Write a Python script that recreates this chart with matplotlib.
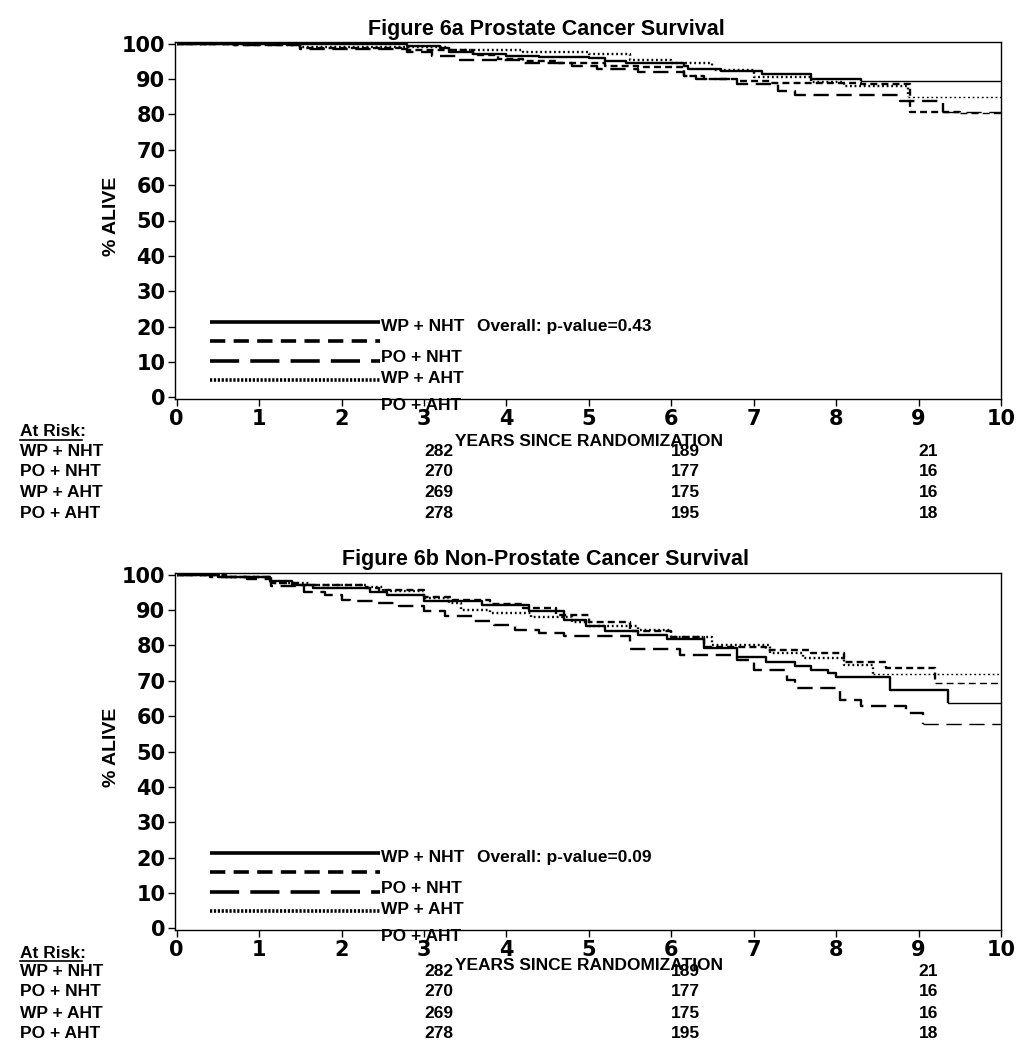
import matplotlib
matplotlib.use('Agg')
import matplotlib.pyplot as plt
import matplotlib.transforms as mtransforms

plt.rcParams['lines.scale_dashes'] = False

# ---- data ----
groups = ['WP + NHT', 'PO + NHT', 'WP + AHT', 'PO + AHT']
risk_years = [3, 6, 9]
risk_counts = [[282, 189, 21], [270, 177, 16], [269, 175, 16], [278, 195, 18]]

# Figure 6a: prostate cancer survival (step curves, event times in years)
a_wp_nht_t = [0, 1.75, 2.8, 3.2, 3.3, 3.6, 4.0, 4.4, 5.0, 5.2, 5.45, 6.15, 6.2, 6.6, 7.1, 7.7, 8.3]
a_wp_nht_s = [100, 99.8, 99.4, 98.8, 97.8, 97.2, 96.6, 96.2, 95.9, 95.2, 94.7, 93.8, 92.8, 92.4, 91.4, 90.0, 89.5]
a_po_nht_t = [0, 0.7, 1.5, 2.8, 3.6, 3.9, 4.2, 4.6, 5.2, 5.6, 6.15, 6.4, 6.8, 7.2, 7.7, 8.3, 8.9, 9.5]
a_po_nht_s = [100, 99.7, 98.8, 98.1, 96.9, 95.7, 95.0, 94.5, 93.8, 93.3, 91.0, 90.1, 89.4, 89.0, 88.9, 88.7, 80.8, 80.4]
a_wp_aht_t = [0, 0.7, 1.5, 2.8, 3.1, 3.4, 4.2, 4.8, 5.1, 5.6, 6.15, 6.3, 6.8, 7.3, 7.5, 8.77, 9.3]
a_wp_aht_s = [100, 99.7, 98.5, 97.8, 96.4, 95.5, 94.5, 93.8, 92.9, 92.0, 90.8, 90.1, 88.5, 86.6, 85.6, 83.7, 80.8]
a_po_aht_t = [0, 1.3, 1.5, 2.8, 3.3, 4.2, 5.0, 5.5, 6.0, 6.5, 7.0, 7.7, 8.1, 8.87]
a_po_aht_s = [100, 99.6, 99.2, 99.0, 98.3, 97.8, 97.0, 95.5, 94.5, 92.5, 90.5, 89.1, 88.0, 84.9]

# Figure 6b: non-prostate cancer survival
b_wp_nht_t = [0, 0.5, 1.13, 1.4, 1.65, 2.34, 2.55, 3.0, 3.7, 4.28, 4.7, 4.97, 5.2, 5.6, 5.95, 6.4,
              6.8, 7.15, 7.5, 7.7, 7.9, 8.0, 8.65, 9.36]
b_wp_nht_s = [100, 99.4, 98.3, 97.2, 96.3, 95.2, 94.3, 92.6, 91.5, 89.8, 87.3, 85.5, 84.2, 83.0, 81.9, 79.3,
              76.8, 75.4, 74.2, 73.0, 72.2, 71.0, 67.4, 63.7]
b_po_nht_t = [0, 0.6, 1.15, 1.5, 2.3, 2.45, 3.0, 3.35, 3.8, 4.2, 4.6, 5.0, 5.5, 6.0, 6.4, 7.15, 7.7, 8.1, 8.6, 9.2]
b_po_nht_s = [100, 99.3, 97.7, 97.2, 96.3, 95.8, 93.8, 92.8, 91.6, 90.5, 88.5, 86.5, 84.2, 82.3, 79.6, 78.8,
              77.9, 75.4, 73.7, 69.4]
b_wp_aht_t = [0, 0.4, 0.85, 1.15, 1.55, 1.8, 2.0, 2.1, 2.4, 2.7, 3.0, 3.25, 3.6, 3.85, 4.1, 4.4, 4.7, 5.5,
              6.1, 6.8, 7.0, 7.4, 7.5, 8.05, 8.3, 8.85, 9.05]
b_wp_aht_s = [100, 99.4, 98.8, 96.9, 95.2, 94.4, 93.0, 92.6, 92.0, 91.2, 89.8, 88.4, 87.0, 85.8, 84.4, 83.6,
              82.7, 79.0, 77.3, 76.0, 73.0, 70.3, 68.0, 64.6, 62.9, 61.0, 57.8]
b_po_aht_t = [0, 0.6, 1.15, 1.6, 2.3, 2.5, 3.0, 3.3, 3.45, 3.8, 4.3, 4.8, 5.0, 5.6, 6.0, 6.5, 7.2, 7.6, 8.1, 8.45]
b_po_aht_s = [100, 99.4, 97.7, 97.2, 96.5, 95.5, 93.5, 92.0, 90.1, 89.2, 88.0, 86.5, 85.6, 84.5, 82.5, 80.2,
              77.9, 76.5, 74.5, 71.8]

p_values = ['0.43', '0.09']
titles = ['Figure 6a Prostate Cancer Survival', 'Figure 6b Non-Prostate Cancer Survival']
x_max = 10

# ---- styles ----
txt_font = ['Liberation Sans', 'DejaVu Sans']
curve_ls = ['-', (0, (5, 3)), (0, (11, 5.5)), (0, (1.3, 2))]
legend_ls = ['-', (0, (11, 6)), (0, (21, 8)), (0, (1.6, 1.2))]
legend_y = [21.2, 16.0, 10.2, 4.9]
label_y = [20.0, 11.3, 5.4, -2.3]
fs = 12.5

fig = plt.figure(figsize=(10.29, 10.5), dpi=100)
W, H = 1029, 1050


def step_curve(ax, t, s, ls):
    ax.step(t, s, where='post', color='black', lw=1.7, linestyle=ls, solid_capstyle='butt')
    # censored tail after last event
    ax.plot([t[-1], x_max], [s[-1], s[-1]], color='black', lw=1.0, linestyle=ls)


def panel(top_px, curves, pval, title, text_rows):
    ax = fig.add_axes([175 / W, 1 - (top_px + 357) / H, 826 / W, 357 / H])
    for (t, s), ls in zip(curves, curve_ls):
        step_curve(ax, t, s, ls)
    for yy, ls, ty, g in zip(legend_y, legend_ls, label_y, groups):
        ax.plot([0.4, 2.47], [yy, yy], color='black', lw=2.6, linestyle=ls, solid_capstyle='butt')
        ax.text(2.48, ty, g, family=txt_font, fontweight='bold', fontsize=fs,
                va='center', ha='left', clip_on=False)
    ax.text(3.64, 20.0, 'Overall: p-value=' + pval, family=txt_font, fontweight='bold',
            fontsize=fs, va='center', ha='left')
    ax.set_xlim(-0.02, x_max)
    ax.set_ylim(-0.5, 100.5)
    ax.set_xticks(range(0, 11))
    ax.set_yticks(range(0, 101, 10))
    ax.tick_params(direction='out', length=5, width=1, pad=2)
    for lab in ax.get_xticklabels() + ax.get_yticklabels():
        lab.set_fontweight('bold')
        lab.set_fontsize(15)
        lab.set_family('DejaVu Sans')
    for sp in ax.spines.values():
        sp.set_linewidth(1.0)

    ymid = 1 - (top_px + 174) / H
    fig.text(111 / W, ymid, '% ALIVE', rotation=90, family='Liberation Sans',
             fontweight='bold', fontsize=14, ha='center', va='center')
    fig.text(546 / W, 1 - (top_px - 13) / H, title, family=txt_font, fontweight='bold',
             fontsize=15.5, ha='center', va='center')

    ay, rows_y, xlab_y = text_rows
    fig.text(20 / W, 1 - ay / H, 'At Risk:', family=txt_font, fontweight='bold',
             fontsize=fs, ha='left', va='center')
    fig.add_artist(plt.Line2D([20 / W, 82 / W], [1 - (ay + 8) / H] * 2, color='black', lw=1.2))
    trans = mtransforms.blended_transform_factory(ax.transData, fig.transFigure)
    for g, counts, ry in zip(groups, risk_counts, rows_y):
        fig.text(20 / W, 1 - ry / H, g, family=txt_font, fontweight='bold', fontsize=fs,
                 ha='left', va='center')
        for yr, c in zip(risk_years, counts):
            ax.text(yr, 1 - ry / H, str(c), transform=trans, family=txt_font, fontweight='bold',
                    fontsize=fs, ha='left', va='center', clip_on=False)
    ax.text(5.0, 1 - xlab_y / H, 'YEARS SINCE RANDOMIZATION', transform=trans, family=txt_font,
            fontweight='bold', fontsize=fs, ha='center', va='center', clip_on=False)
    return ax


panel(42, [(a_wp_nht_t, a_wp_nht_s), (a_po_nht_t, a_po_nht_s),
           (a_wp_aht_t, a_wp_aht_s), (a_po_aht_t, a_po_aht_s)],
      p_values[0], titles[0], (432, [452, 472, 492, 513], 442))
panel(573, [(b_wp_nht_t, b_wp_nht_s), (b_po_nht_t, b_po_nht_s),
            (b_wp_aht_t, b_wp_aht_s), (b_po_aht_t, b_po_aht_s)],
      p_values[1], titles[1], (953, [971, 991, 1013, 1033], 966))

fig.savefig('out.png', dpi=100)
